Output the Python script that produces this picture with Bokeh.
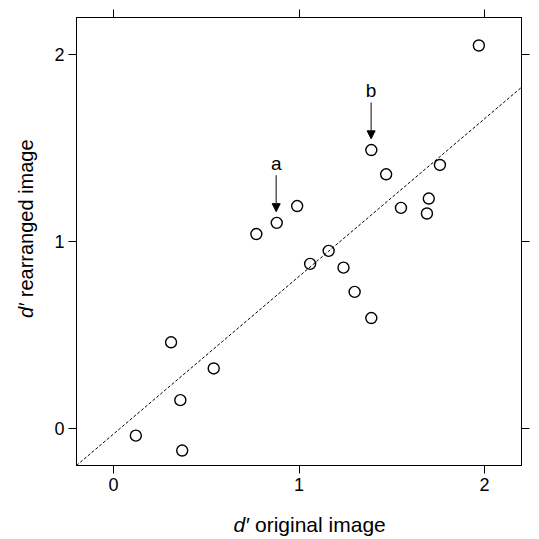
import numpy as np
from bokeh.plotting import figure
from bokeh.models import LinearAxis, Range1d, FixedTicker, Label, Arrow, NormalHead, Slope, ColumnDataSource
from bokeh.embed import file_html
from bokeh.resources import INLINE

# data: d' original image (x) vs d' rearranged image (y)
d_original = [0.12, 0.37, 0.36, 0.31, 0.54, 0.77, 0.88, 0.99, 1.06, 1.16,
              1.24, 1.30, 1.39, 1.39, 1.47, 1.55, 1.69, 1.70, 1.76, 1.97]
d_rearranged = [-0.04, -0.12, 0.15, 0.46, 0.32, 1.04, 1.10, 1.19, 0.88, 0.95,
                0.86, 0.73, 0.59, 1.49, 1.36, 1.18, 1.15, 1.23, 1.41, 2.05]
tick_values = [0, 1, 2]
fit_gradient = 0.844
fit_intercept = -0.031

# annotated points
ann_labels = ["a", "b"]
ann_x = [0.877, 1.389]
ann_y = [1.10, 1.49]

FONT = "Liberation Sans"

p = figure(width=539, height=539, output_backend="svg", toolbar_location=None,
           x_range=Range1d(-0.2, 2.2), y_range=Range1d(-0.2, 2.2),
           x_axis_location=None, y_axis_location=None,
           min_border_left=76, min_border_right=18, min_border_top=17, min_border_bottom=72)
p.grid.visible = False
p.outline_line_color = "black"
p.outline_line_width = 1
p.background_fill_color = "white"
p.border_fill_color = "white"

def make_axis(labels=True):
    ax = LinearAxis(ticker=FixedTicker(ticks=tick_values))
    ax.major_tick_out = 8
    ax.major_tick_in = 0
    ax.minor_tick_line_color = None
    ax.axis_line_color = "black"
    ax.major_tick_line_color = "black"
    ax.major_tick_line_width = 1
    ax.major_label_text_font = FONT
    if labels:
        ax.major_label_text_color = "black"
        ax.major_label_text_font_size = "18px"
        ax.major_label_standoff = 4
    else:
        ax.major_label_text_color = None
        ax.major_label_text_font_size = "1px"
        ax.major_label_standoff = 0
    return ax

p.add_layout(make_axis(True), "below")
p.add_layout(make_axis(True), "left")
p.add_layout(make_axis(False), "above")
p.add_layout(make_axis(False), "right")

# regression line
p.add_layout(Slope(gradient=fit_gradient, y_intercept=fit_intercept,
                   line_color="black", line_width=1, line_dash="3 2"))

src = ColumnDataSource(dict(x=d_original, y=d_rearranged))
p.scatter("x", "y", source=src, size=11, fill_color=None, line_color="black", line_width=1.4)

# arrows and letters
for lab, ax_, ay_ in zip(ann_labels, ann_x, ann_y):
    p.add_layout(Arrow(end=NormalHead(size=8, fill_color="black", line_color="black"),
                       x_start=ax_, y_start=ay_ + 0.255, x_end=ax_, y_end=ay_ + 0.06,
                       line_color="#333333", line_width=1.2))
    p.add_layout(Label(x=ax_, y=ay_ + 0.32, text=lab, text_align="center", text_baseline="middle",
                       text_font=FONT, text_font_size="19px", text_color="black"))

# axis titles (italic d')
xl_y = -0.2 - 59 / 187.5
p.add_layout(Label(x=1.0, y=xl_y, x_offset=-50, text="d\u2032", text_align="right", text_baseline="middle",
                   text_font=FONT, text_font_style="italic", text_font_size="21px", text_color="black"), "below")
p.add_layout(Label(x=1.0, y=xl_y, x_offset=-44, text="original image", text_align="left", text_baseline="middle",
                   text_font=FONT, text_font_size="21px", text_color="black"), "below")
yl_x = -0.2 - 50 / 185.4
yl_y = 2.2 - 287 / 187.5
p.add_layout(Label(x=yl_x, y=yl_y, text="d\u2032", angle=np.pi / 2, text_align="right", text_baseline="middle",
                   text_font=FONT, text_font_style="italic", text_font_size="20px", text_color="black"), "left")
p.add_layout(Label(x=yl_x, y=yl_y + 6 / 187.5, text="rearranged image", angle=np.pi / 2, text_align="left",
                   text_baseline="middle", text_font=FONT, text_font_size="20px", text_color="black"), "left")

open("out.html", "w").write(file_html(p, INLINE))
